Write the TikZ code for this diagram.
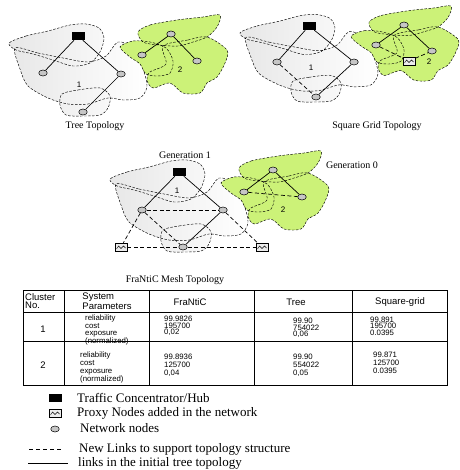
\documentclass[tikz,border=0pt]{standalone}
\usepackage{fontspec}
\setmainfont{Liberation Serif}
\setsansfont{Liberation Sans}
\usetikzlibrary{positioning, shapes.geometric}

\definecolor{zonegreen}{RGB}{204,242,120}

\begin{document}
\begin{tikzpicture}[x=1pt, y=-1pt,
    hub/.style={rectangle, fill=black, minimum width=13pt, minimum height=8pt, inner sep=0pt},
    netnode/.style={ellipse, draw, fill=gray!45, line width=0.5pt, minimum width=8.5pt, minimum height=6pt, inner sep=0pt},
    proxy/.style={rectangle, draw, fill=gray!15, line width=0.5pt, minimum width=12pt, minimum height=8pt, inner sep=0pt,
      path picture={\draw[line width=0.4pt] ([xshift=1.5pt,yshift=2pt]path picture bounding box.south west)
        -- ++(2pt,3pt) -- ++(2.5pt,-2.5pt) -- ++(2.5pt,2.5pt) -- ++(2pt,-2pt);}},
    treelink/.style={line width=0.7pt},
    newlink/.style={line width=0.7pt, dash pattern=on 4pt off 2.5pt},
    zoneline/.style={line width=0.45pt, dash pattern=on 2.5pt off 1.5pt},
    caption/.style={font=\fontsize{10}{12}\selectfont, inner sep=0pt},
    zonelabel/.style={font=\sffamily\fontsize{8}{8}\selectfont, inner sep=0pt},
    thead/.style={font=\sffamily\fontsize{9.5}{8}\selectfont, align=left, inner sep=0pt},
    tcell/.style={font=\sffamily\fontsize{7.8}{6.6}\selectfont, align=left, inner sep=0pt, anchor=west},
    tcellb/.style={font=\sffamily\fontsize{7.8}{8}\selectfont, align=left, inner sep=0pt, anchor=west},
    legend/.style={font=\fontsize{13}{13}\selectfont, anchor=west, inner sep=0pt},
    pics/zones/.style={code={
      % gray cluster 1
      \shadedraw[zoneline, left color=gray!19, right color=white]
        plot[smooth cycle] coordinates {(-69,7) (-52,0) (-30,-5) (-8,-11) (8,-12) (21,-8) (26,2) (22,16)
          (12,27) (-5,30) (-25,24) (-45,18) (-62,14)}
        plot[smooth cycle] coordinates {(-63,12) (-40,17) (-15,22) (10,26) (28,20) (40,6) (55,12) (64,30)
          (69,50) (62,62) (45,64) (30,62) (10,68) (-10,68) (-30,62) (-50,50) (-58,33)}
        plot[smooth cycle] coordinates {(-16,58) (0,54) (22,52) (32,60) (30,72) (22,79) (5,80) (-12,79) (-18,69)};
      % green cluster 2
      \filldraw[zoneline, fill=zonegreen]
        plot[smooth cycle] coordinates {(60,-4) (72,-11) (99,-16) (125,-19) (142,-21) (139,-9) (129,1)
          (115,6) (100,10) (80,9) (65,6)}
        plot[smooth cycle] coordinates {(42,11) (55,5) (72,6) (88,12) (95,25) (92,37) (80,40) (68,38) (62,28) (52,21)}
        plot[smooth cycle] coordinates {(85,10) (110,4) (129,1) (149,14) (147,27) (139,41) (129,47) (122,57)
          (105,57) (92,47) (75,52) (69,44) (72,36) (88,28)};
    }}
  ]
  \useasboundingbox (0,0) rectangle (459,470);

  % Tree topology
  \pic at (78,36) {zones};
  \node[hub] (t0) at (78,36) {};
  \node[netnode] (t1) at (43,73) {};
  \node[netnode] (t2) at (121,74) {};
  \node[netnode] (t3) at (83,112) {};
  \node[netnode] (tg0) at (171,34) {};
  \node[netnode] (tg1) at (142,55) {};
  \node[netnode] (tg2) at (197,61) {};
  \draw[treelink] (t0) -- (t1);
  \draw[treelink] (t0) -- (t2);
  \draw[treelink] (t2) -- (t3);
  \draw[treelink] (tg0) -- (tg1);
  \draw[treelink] (tg0) -- (tg2);
  \node[zonelabel] (tz1) at (79,85) {1};
  \node[zonelabel] (tz2) at (180,70) {2};
  \node[caption] (tcap) at (95,126) {Tree Topology};

  % Square grid topology
  \pic[yscale=0.95] at (309,26) {zones};
  \node[hub] (s0) at (309,26) {};
  \node[netnode] (s1) at (277,62) {};
  \node[netnode] (s2) at (354,62) {};
  \node[netnode] (s3) at (316,97) {};
  \node[netnode] (sg0) at (404,25) {};
  \node[netnode] (sg1) at (376,45) {};
  \node[netnode] (sg2) at (432,51) {};
  \node[proxy] (sp) at (409,61) {};
  \draw[treelink] (s0) -- (s1);
  \draw[treelink] (s0) -- (s2);
  \draw[treelink] (s2) -- (s3);
  \draw[newlink] (s1) -- (s3);
  \draw[treelink] (sg0) -- (sg1);
  \draw[treelink] (sg0) -- (sg2);
  \draw[newlink] (sg1) -- (sp);
  \draw[newlink] (sp) -- (sg2);
  \node[zonelabel] (sz1) at (311,68) {1};
  \node[zonelabel] (sz2) at (429,62) {2};
  \node[caption] (scap) at (377,126) {Square Grid Topology};

  % FraNtiC mesh topology
  \pic at (179,172) {zones};
  \node[hub] (f0) at (179,172) {};
  \node[netnode] (f1) at (142,210) {};
  \node[netnode] (f2) at (223,210) {};
  \node[netnode] (f3) at (183,247) {};
  \node[proxy] (fp1) at (121,247) {};
  \node[proxy] (fp2) at (262,247) {};
  \node[netnode] (fg0) at (273,170) {};
  \node[netnode] (fg1) at (244,192) {};
  \node[netnode] (fg2) at (302,197) {};
  \draw[treelink] (f0) -- (f1);
  \draw[treelink] (f0) -- (f2);
  \draw[treelink] (f2) -- (f3);
  \draw[newlink] (f1) -- (f3);
  \draw[newlink] (f1) -- (f2);
  \draw[newlink] (f1) -- (fp1);
  \draw[newlink] (f2) -- (fp2);
  \draw[newlink] (fp1) -- (f3);
  \draw[newlink] (f3) -- (fp2);
  \draw[treelink] (fg0) -- (fg1);
  \draw[treelink] (fg0) -- (fg2);
  \draw[newlink] (fg1) -- (fg2);
  \node[zonelabel] (fz1) at (177,191) {1};
  \node[zonelabel] (fz2) at (283,210) {2};
  \node[caption] (gen1) at (185,155) {Generation 1};
  \node[caption] (gen0) at (352,165) {Generation 0};
  \node[caption] (fcap) at (175,280) {FraNtiC Mesh Topology};

  % results table
  \draw[line width=0.8pt] (23,290) rectangle (447,385);
  \draw[line width=0.6pt] (23,312) -- (447,312) (23,341) -- (447,341);
  \foreach \x in {64,149,254,352}
    \draw[line width=0.6pt] (\x,290) -- (\x,385);
  \node[thead, anchor=west] (hclus) at (25,301) {Cluster\\No.};
  \node[thead] (hpar) at (107,301) {System\\Parameters};
  \node[thead] (hfra) at (190,302) {FraNtiC};
  \node[thead] (htree) at (296,302) {Tree};
  \node[thead] (hsq) at (400,302) {Square-grid};
  \node[thead] (c1) at (43,329) {1};
  \node[thead] (c2) at (43,365) {2};
  \node[tcell] (p1) at (85,330) {reliability\\cost\\exposure\\(normalized)};
  \node[tcellb] (p2) at (80,367) {reliability\\cost\\exposure\\(normalized)};
  \node[tcell] (fra1) at (164,326) {99.9826\\195700\\0,02};
  \node[tcellb] (fra2) at (164,365) {99.8936\\125700\\0,04};
  \node[tcell] (tree1) at (293,328) {99.90\\754022\\0,06};
  \node[tcellb] (tree2) at (293,365) {99.90\\554022\\0,05};
  \node[tcell] (sq1) at (370,326) {99.891\\195700\\0.0395};
  \node[tcellb] (sq2) at (373,363) {99.871\\125700\\0.0395};

  % legend
  \node[hub] (khub) at (55,398) {};
  \node[legend] (thub) at (77,398) {Traffic Concentrator/Hub};
  \node[proxy] (kproxy) at (55,413) {};
  \node[legend] (tproxy) at (77,413) {Proxy Nodes added in the network};
  \node[netnode] (knode) at (55,429) {};
  \node[legend] (tnode) at (80,428) {Network nodes};
  \coordinate (knew1) at (29,449);
  \coordinate (knew2) at (63,449);
  \draw[newlink, dash pattern=on 4pt off 3pt] (knew1) -- (knew2);
  \node[legend] (tnew) at (79,449) {New Links to support topology structure};
  \coordinate (kold1) at (28,463);
  \coordinate (kold2) at (68,463);
  \draw[treelink] (kold1) -- (kold2);
  \node[legend] (told) at (78,463) {links in the initial tree topology};
\end{tikzpicture}
\end{document}
